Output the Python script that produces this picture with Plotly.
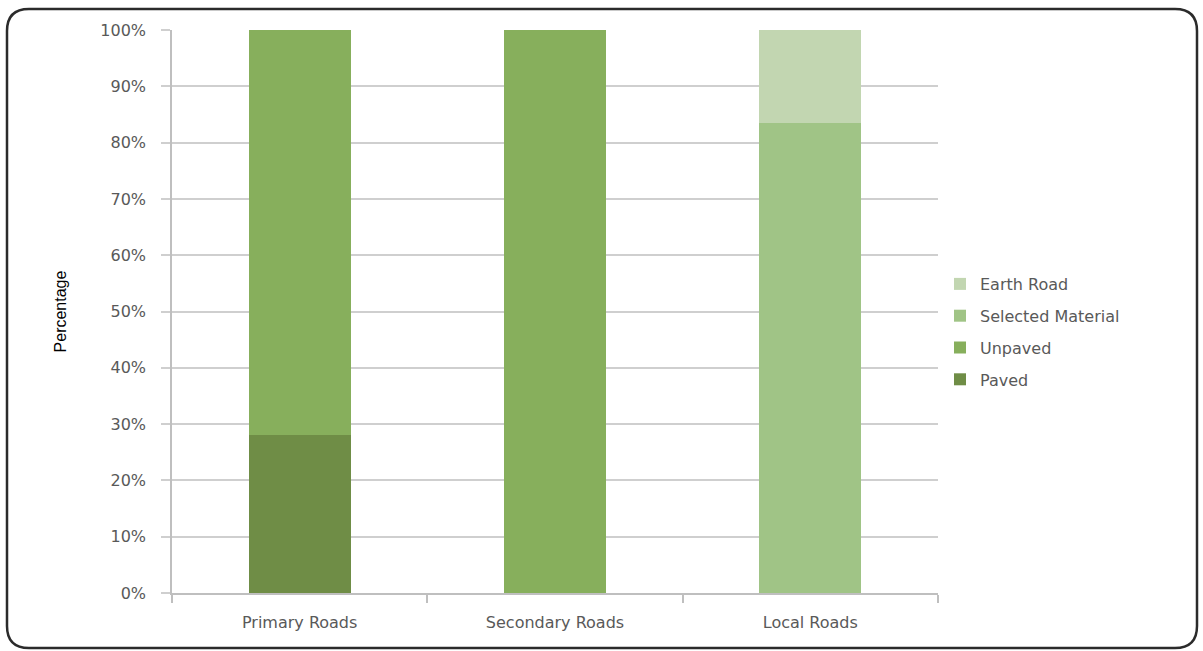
import plotly.graph_objects as go

categories = ["Primary Roads", "Secondary Roads", "Local Roads"]
paved = [28, 0, 0]
unpaved = [72, 100, 0]
selected_material = [0, 0, 83.5]
earth_road = [0, 0, 16.5]

series = [
    ("Paved", paved, "#6f8d46"),
    ("Unpaved", unpaved, "#87af5c"),
    ("Selected Material", selected_material, "#a0c486"),
    ("Earth Road", earth_road, "#c2d6b1"),
]

W, H = 1203, 651
L, R, T, B = 172, 265, 30, 58

fig = go.Figure()
for i, (name, vals, color) in enumerate(series):
    fig.add_trace(go.Bar(
        x=categories, y=vals, name=name, legendgroup=name,
        legendrank=len(series) - i,
        marker=dict(color=color, line=dict(width=0)),
        width=0.4,
    ))

# rounded frame around the whole chart, expressed in paper coordinates
pw, ph = W - L - R, H - T - B
def px(x):
    return (x - L) / pw
def py(y):
    return (H - B - y) / ph
x0, x1, y0, y1 = px(7), px(1197), py(9), py(648)
rx, ry = 22 / pw, 22 / ph
path = (
    f"M {x0+rx},{y0} L {x1-rx},{y0} Q {x1},{y0} {x1},{y0-ry} "
    f"L {x1},{y1+ry} Q {x1},{y1} {x1-rx},{y1} "
    f"L {x0+rx},{y1} Q {x0},{y1} {x0},{y1+ry} "
    f"L {x0},{y0-ry} Q {x0},{y0} {x0+rx},{y0} Z"
)

fig.update_layout(
    width=W, height=H,
    barmode="stack",
    bargap=0.6,
    paper_bgcolor="white",
    plot_bgcolor="white",
    margin=dict(l=L, r=R, t=T, b=B),
    font=dict(family="DejaVu Sans", color="#595959", size=16),
    showlegend=True,
    legend=dict(
        traceorder="grouped",
        x=px(940), y=py(267), xanchor="left", yanchor="top",
        font=dict(size=16, color="#595959"),
        itemsizing="constant",
        tracegroupgap=8,
        itemwidth=30,
    ),
    shapes=[dict(
        type="path", path=path, xref="paper", yref="paper",
        line=dict(color="#2b2b2b", width=2.5), layer="above",
    )],
    xaxis=dict(
        showgrid=False,
        showline=True, linecolor="#bfbfbf", linewidth=1.5,
        ticks="outside", tickson="boundaries", ticklen=8,
        tickcolor="#bfbfbf", tickwidth=1.5,
        tickfont=dict(size=16, color="#595959"),
        ticklabelstandoff=14,
    ),
    yaxis=dict(
        range=[0, 100],
        dtick=10,
        ticksuffix="%",
        showgrid=True, gridcolor="#cfcfcf", gridwidth=1.5,
        showline=True, linecolor="#bfbfbf", linewidth=1.5,
        ticks="outside", ticklen=9, tickcolor="#cfcfcf", tickwidth=1.5,
        tickfont=dict(size=16, color="#595959"),
        ticklabelstandoff=12,
        zeroline=False,
        title=dict(
            text="Percentage",
            font=dict(family="Liberation Sans Narrow, Liberation Sans, sans-serif",
                      size=16, color="#000000"),
            standoff=30,
        ),
    ),
)

fig.write_html("out.html")
